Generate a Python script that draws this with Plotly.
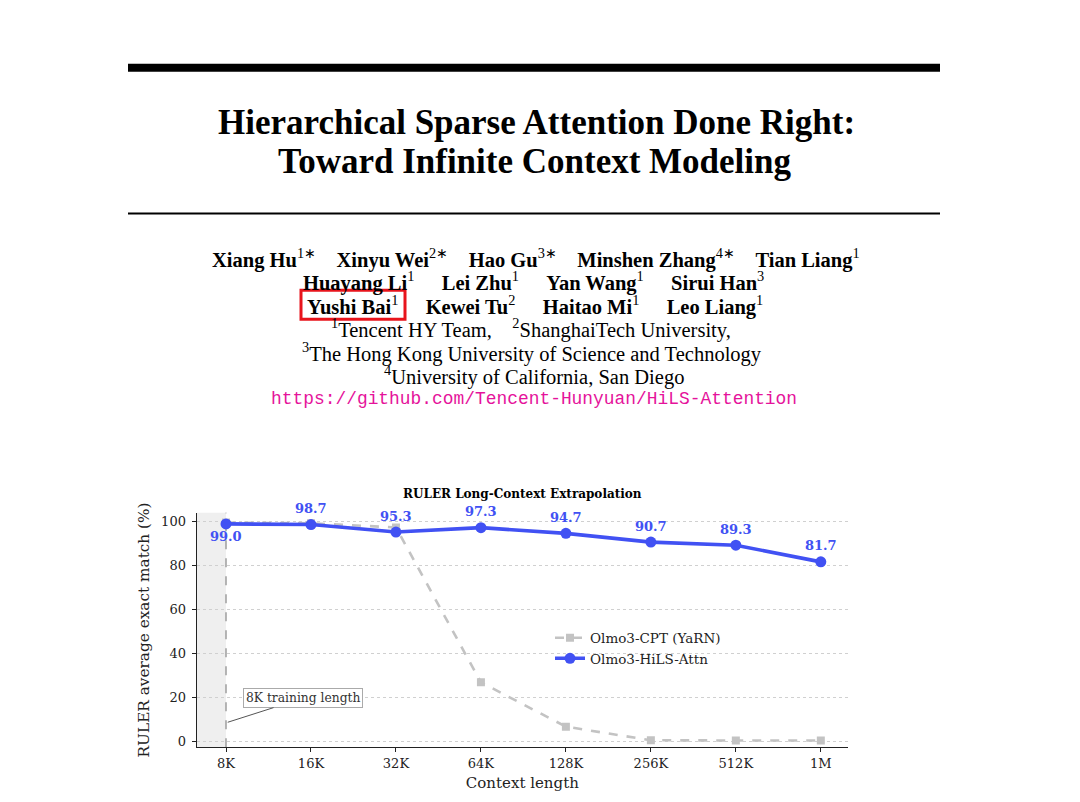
import plotly.graph_objects as go

# context lengths and RULER scores
contexts = ["8K", "16K", "32K", "64K", "128K", "256K", "512K", "1M"]
yarn_scores = [99.6, 99.3, 97.4, 26.8, 6.6, 0.4, 0.3, 0.3]
hils_scores = [99.0, 98.7, 95.3, 97.3, 94.7, 90.7, 89.3, 81.7]
y_ticks = [0, 20, 40, 60, 80, 100]

paper_title = ["Hierarchical Sparse Attention Done Right:",
               "Toward Infinite Context Modeling"]
GAP1 = "\u2003"
GAP2 = "\u2003\u2004"
author_lines = [
    GAP1.join(["<b>Xiang Hu</b><sup>1∗</sup>", "<b>Xinyu Wei</b><sup>2∗</sup>",
               "<b>Hao Gu</b><sup>3∗</sup>", "<b>Minshen Zhang</b><sup>4∗</sup>",
               "<b>Tian Liang</b><sup>1</sup>"]),
    GAP2.join(["<b>Huayang Li</b><sup>1</sup>", "<b>Lei Zhu</b><sup>1</sup>",
               "<b>Yan Wang</b><sup>1</sup>", "<b>Sirui Han</b><sup>3</sup>"]),
    GAP2.join(["<b>Yushi Bai</b><sup>1</sup>", "<b>Kewei Tu</b><sup>2</sup>",
               "<b>Haitao Mi</b><sup>1</sup>", "<b>Leo Liang</b><sup>1</sup>"]),
]
affil_lines = [
    "<sup>1</sup>Tencent HY Team,\u2003<sup>2</sup>ShanghaiTech University,",
    "<sup>3</sup>The Hong Kong University of Science and Technology",
    "<sup>4</sup>University of California, San Diego",
]
repo_url = "https://github.com/Tencent-Hunyuan/HiLS-Attention"

W, H = 1080, 802
BLUE = "#4151f3"
GREY = "#c3c3c3"
SERIF = "DejaVu Serif"
TIMES = "Liberation Serif"

def px_x(x):
    return x / W

def px_y(y):
    return 1 - y / H

def page_text(txt, x, y, font):
    return dict(x=px_x(x), y=px_y(y), xref="paper", yref="paper", text=txt,
                showarrow=False, xanchor="center", yanchor="middle", font=font)

fig = go.Figure()

fig.add_trace(go.Scatter(
    x=contexts, y=yarn_scores, name="Olmo3-CPT (YaRN)",
    mode="lines+markers",
    line=dict(color=GREY, width=2.6, dash="dash"),
    marker=dict(symbol="square", size=8, color=GREY),
))
fig.add_trace(go.Scatter(
    x=contexts, y=hils_scores, name="Olmo3-HiLS-Attn",
    mode="lines+markers",
    line=dict(color=BLUE, width=3.6),
    marker=dict(symbol="circle", size=11, color=BLUE),
))

annos = []
# value labels on the HiLS line
for i, v in enumerate(hils_scores):
    annos.append(dict(
        x=i, y=v, xref="x", yref="y", text=f"<b>{v:.1f}</b>",
        showarrow=False, xanchor="center", yanchor="middle",
        yshift=-13 if i == 0 else 16,
        font=dict(family=SERIF, size=13, color=BLUE),
    ))

annos.append(dict(
    x=0.02, y=8.6, xref="x", yref="y", ax=0.91, ay=19.6, axref="x", ayref="y",
    text="8K training length", showarrow=True, arrowhead=0, arrowwidth=1,
    arrowcolor="#555555", bgcolor="white", bordercolor="#aaaaaa",
    borderwidth=1, borderpad=2,
    font=dict(family=SERIF, size=12.3, color="#333333"),
))

# paper header
title_font = dict(family=TIMES, size=35, color="black")
annos.append(page_text(f"<b>{paper_title[0]}</b>", 536.5, 123, title_font))
annos.append(page_text(f"<b>{paper_title[1]}</b>", 534.5, 162, title_font))

body_font = dict(family=TIMES, size=20.5, color="black")
for txt, x, y in zip(author_lines, [536, 533, 534.5], [259, 282, 306]):
    annos.append(page_text(txt, x, y, body_font))
for txt, x, y in zip(affil_lines, [531, 531.5, 534], [329, 353, 376]):
    annos.append(page_text(txt, x, y, body_font))
annos.append(page_text(repo_url, 534, 400,
                       dict(family="Liberation Mono", size=17.9, color="#e5139b")))

annos.append(page_text("<b>RULER Long-Context Extrapolation</b>", 522, 495,
                       dict(family=SERIF, size=12, color="black")))

shapes = [
    dict(type="rect", xref="paper", yref="paper",
         x0=px_x(128), x1=px_x(940), y0=px_y(72), y1=px_y(64),
         fillcolor="black", line=dict(width=0)),
    dict(type="line", xref="paper", yref="paper",
         x0=px_x(128), x1=px_x(940), y0=px_y(214), y1=px_y(214),
         line=dict(color="black", width=2)),
    dict(type="rect", xref="paper", yref="paper",
         x0=px_x(301), x1=px_x(405), y0=px_y(320), y1=px_y(291),
         line=dict(color="#e8141c", width=3)),
    # training region shading and 8K marker line
    dict(type="rect", xref="x", yref="y domain", x0=-0.345, x1=0, y0=0, y1=1,
         fillcolor="#efefef", line=dict(width=0), layer="below"),
    dict(type="line", xref="x", yref="y domain", x0=0, x1=0, y0=0, y1=1,
         line=dict(color="#888888", width=1.2, dash="dash"), layer="below"),
]

fig.update_layout(
    width=W, height=H, autosize=False,
    margin=dict(l=0, r=0, t=0, b=0),
    paper_bgcolor="white", plot_bgcolor="white",
    annotations=annos, shapes=shapes,
    showlegend=True,
    legend=dict(x=px_x(550), y=px_y(624), xanchor="left", yanchor="top",
                bgcolor="rgba(0,0,0,0)", font=dict(family=SERIF, size=13.5, color="#222"),
                tracegroupgap=0),
    xaxis=dict(domain=[px_x(196.7), px_x(848)], type="category",
               range=[-0.345, 7.32], showgrid=False, showline=True,
               linecolor="#222", linewidth=1.3, ticks="outside", ticklen=4,
               tickcolor="#222", tickfont=dict(family=SERIF, size=13, color="#222"),
               title=dict(text="Context length", font=dict(family=SERIF, size=15, color="#222"),
                          standoff=7),
               zeroline=False),
    yaxis=dict(domain=[px_y(749), px_y(514)], range=[-2.73, 104.1],
               tickvals=y_ticks, showgrid=True, gridcolor="#d0d0d0", griddash="dot",
               gridwidth=1, showline=True, linecolor="#222", linewidth=1.3,
               ticks="outside", ticklen=4, tickcolor="#222", ticklabelstandoff=3,
               tickfont=dict(family=SERIF, size=13, color="#222"),
               title=dict(text="RULER average exact match (%)",
                          font=dict(family=SERIF, size=15.3, color="#222"), standoff=7),
               zeroline=False),
)

fig.write_html("out.html", config={"displayModeBar": False},
               post_script="document.body.style.margin='0px';")
